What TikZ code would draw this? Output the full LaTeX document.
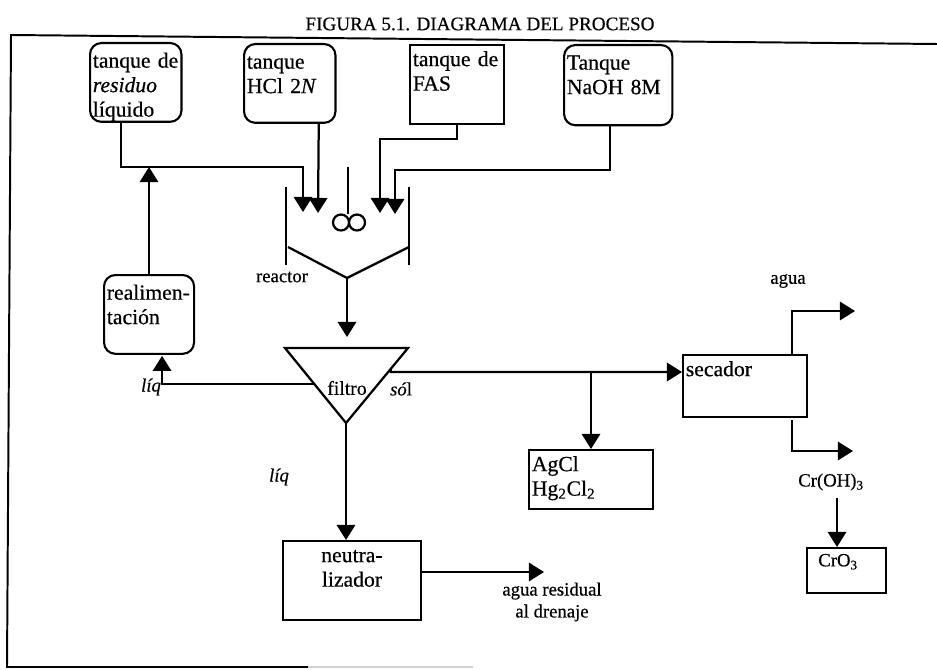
\documentclass[tikz,border=0pt]{standalone}
\usepackage{fontspec}
\setmainfont{Liberation Serif}[FakeBold=0.5]
\usepackage{tikz}
\usetikzlibrary{arrows.meta,calc}
\tikzset{
  x=0.025cm, y=-0.025cm,
  flow/.style={line width=1.6pt, -{Triangle[length=10.7pt,width=13pt]}},
  pipe/.style={line width=1.6pt},
  tag/.style={font=\fontsize{13.3}{15.6}\selectfont, align=center, inner sep=0pt},
  boxtext/.style={font=\fontsize{15.4}{17.4}\selectfont, align=left, inner xsep=2pt, inner ysep=0pt,
                  text height=#1, line width=1.5pt, draw},
  tankbox/.style={boxtext=17.5pt, rounded corners=8pt},
  sqbox/.style={boxtext=15pt}
}
\begin{document}
\begin{tikzpicture}
  \useasboundingbox (0,0) rectangle (937,669);

  % frame and title
  \draw[line width=1.4pt] (937,44) -- (11,35) -- (7,667) -- (308,667);
  \draw[line width=1pt, gray!35] (308,667) -- (473,667);
  \node[font=\fontsize{13.6}{15}\selectfont, inner sep=0pt] (title) at (480,24) {FIGURA 5.1. DIAGRAMA DEL PROCESO};

  % tanks
  \node[tankbox, anchor=north west, text width=61pt, text depth=38.5pt] (residuo) at (89,42)
    {tanque de\\\textit{residuo}\\líquido};
  \node[tankbox, anchor=north west, text width=61pt, text depth=38.5pt] (hcl) at (243,43)
    {tanque\\HCl 2\textit{N}};
  \node[sqbox, anchor=north west, text width=63pt, text depth=41pt] (fas) at (409,44)
    {tanque de\\FAS};
  \node[tankbox, anchor=north west, text width=73pt, text depth=39.5pt] (naoh) at (563,44)
    {Tanque\\NaOH 8M};

  % reactor
  \coordinate (inA) at (303,212);
  \coordinate (inB) at (318,213);
  \coordinate (inC) at (380,213);
  \coordinate (inD) at (395,214);
  \coordinate (rctL) at (288,247);
  \coordinate (rctR) at (409,247);
  \coordinate (rctB) at (347,278);
  \draw[pipe] (286,187) -- (286,265);
  \draw[pipe] (409,187) -- (409,265);
  \draw[pipe] (rctL) -- (rctB) -- (rctR);
  \draw[pipe] (348,167) -- (348,214);
  \draw[pipe] (341,222.5) circle (8) (357,222.5) circle (8);
  \node[tag] (reactor) at (282,277) {reactor};

  \draw[flow] ($(residuo.south)+(-15,0)$) -- ++(0,44) -| (inA);
  \draw[flow] ($(hcl.south)+(29,0)$) -- (inB);
  \draw[flow] ($(fas.south)+(0,0)$) -- ++(0,14) -| (inC);
  \draw[flow] ($(naoh.south)+(-8,0)$) -- ++(0,44) -| (inD);

  % feedback
  \node[tankbox, anchor=north west, text width=60pt, text depth=38.5pt] (realim) at (103,274)
    {realimen-\\tación};
  \coordinate (backIn) at (149,167);
  \draw[flow] (realim.north -| backIn) -- (backIn);

  % filter
  \coordinate (filTL) at (285,348);
  \coordinate (filTR) at (408,348);
  \coordinate (filB) at (346,423);
  \coordinate (filL) at ($(filTL)!0.48!(filB)$);
  \coordinate (filR) at ($(filTR)!0.28!(filB)$);
  \draw[pipe, line join=miter] (filTL) -- (filTR) -- (filB) -- cycle;
  \node[tag, font=\fontsize{14}{16}\selectfont] (filtro) at (347,388) {filtro};
  \node[tag] (liqa) at (151,387) {\textit{líq}};
  \node[tag] (sol) at (401,389) {\textit{só}l};
  \node[tag] (liqb) at (279,477) {\textit{líq}};

  \coordinate (tipFil) at (347,337);
  \draw[flow] (rctB) -- (tipFil);
  \draw[flow] (filL) -| ($(realim.south)+(13,1)$);

  % neutralizer
  \node[sqbox, anchor=north west, text width=94pt, align=center, text depth=41pt] (neutra) at (282,540)
    {neutra-\\lizador};
  \draw[flow] (filB) -- (neutra.north -| filB);
  \coordinate (drain) at (544,572);
  \draw[flow] (neutra.east |- drain) -- (drain);
  \node[tag] (aguares) at (552,602) {agua residual\\al drenaje};

  % solids
  \node[sqbox, anchor=north west, text width=84pt, text depth=27pt] (agcl) at (528,449)
    {AgCl\\Hg\textsubscript{2}Cl\textsubscript{2}};
  \node[sqbox, anchor=north west, text width=84pt, text depth=29pt] (secador) at (682,354)
    {secador};
  \coordinate (solJoin) at (591,372);
  \draw[flow] (filR) -- ++(0,3) -- (secador.west |- solJoin);
  \draw[flow] (solJoin) -- (solJoin |- agcl.north);

  % dryer outputs
  \coordinate (outW) at (855,311);
  \coordinate (outC) at (853,451);
  \node[tag] (agua) at (788,281) {agua};
  \draw[flow] (792,354) |- (outW);
  \draw[flow] (792,420) |- (outC);
  \node[tag] (croh) at (831,482) {Cr(OH)\textsubscript{3}};
  \node[boxtext=13pt, anchor=north west, font=\fontsize{13.3}{15.6}\selectfont, text width=52pt, text depth=19pt] (cro) at (806,547)
    {\hspace*{6pt}CrO\textsubscript{3}};
  \draw[flow] (837,498) -- (cro.north -| 837,498);
\end{tikzpicture}
\end{document}
